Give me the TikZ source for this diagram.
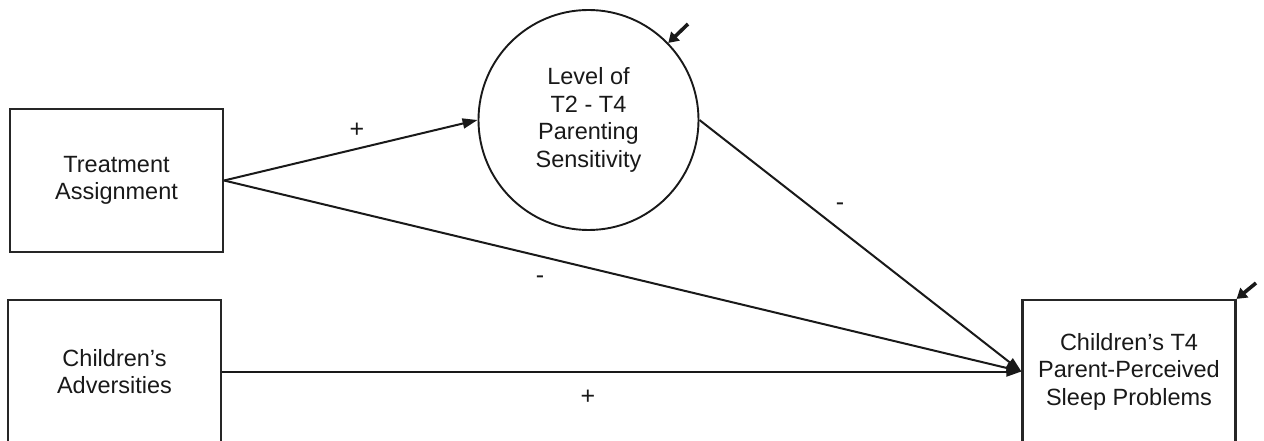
\documentclass[tikz,border=0pt]{standalone}
\usepackage{fontspec}
\setmainfont{Liberation Sans}
\usetikzlibrary{arrows.meta}
\begin{document}
\begin{tikzpicture}[x=1pt,y=-1pt,
  every node/.style={font=\fontsize{23.5}{27.5}\selectfont, text=black!90, align=center},
  boxnode/.style={draw=black!85, line width=2.2pt, minimum width=213pt, minimum height=143pt, inner sep=0pt},
  circnode/.style={draw=black!90, line width=1.9pt, circle, minimum size=220pt, inner sep=0pt},
  path/.style={draw=black!90, line width=2pt, -{Triangle[length=15pt,width=10pt]}},
  errarrow/.style={draw=black!90, line width=3.6pt, -{Triangle[length=10pt,width=12pt]}},
  signlabel/.style={inner sep=0pt, font=\fontsize{25}{28}\selectfont}]
\clip (0,0) rectangle (1264,441);
\fill[white] (0,0) rectangle (1264,441);
\node[boxnode] (T) at (116.5,180.5) {Treatment\\Assignment};
\node[boxnode] (A) at (114.5,371.5) {Children’s\\Adversities};
\node[boxnode] (R) at (1129,371.5) {Children’s T4\\Parent-Perceived\\Sleep Problems};
\node[circnode] (C) at (588.5,120) {\fontsize{23.5}{28}\selectfont Level of\\T2 - T4\\Parenting\\Sensitivity};
\draw[path] (T.east) -- (C.west);
\draw[path] (C.east) -- (R.west);
\draw[path] (T.east) -- (R.west);
\draw[path] (A.east) -- (R.west);
\coordinate (ec) at (688,24);
\coordinate (er) at (1256,283);
\draw[errarrow] (ec) -- (C.44);
\draw[errarrow] (er) -- (R.north east);
\node[signlabel] (s1) at (357,130) {+};
\node[signlabel] (s2) at (840,207) {-};
\node[signlabel] (s3) at (540,280) {-};
\node[signlabel] (s4) at (588,397) {+};
\end{tikzpicture}
\end{document}
